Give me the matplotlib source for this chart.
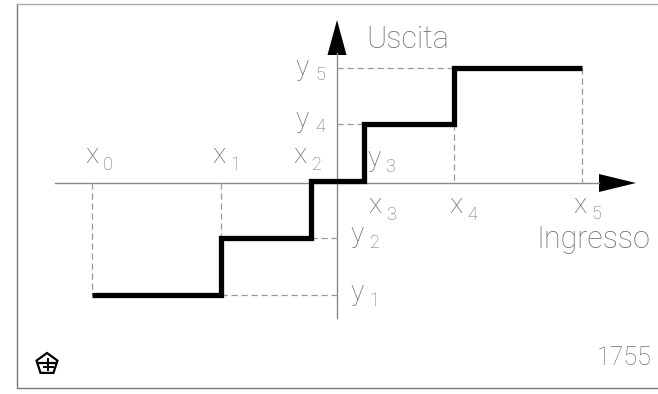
import numpy as np
import matplotlib.pyplot as plt

# input thresholds x0..x5 and output levels y1..y5 (origin at axes crossing)
x_in = [-245, -116, -26, 27, 117, 245]
y_out = [-112, -55, 2, 59, 115]
x_names = ["0", "1", "2", "3", "4", "5"]
y_names = ["1", "2", "3", "4", "5"]

OX, OY = 337, 183   # where the axes cross in the picture

fig = plt.figure(figsize=(6.58, 3.94), dpi=100)
ax = fig.add_axes([0, 0, 1, 1])
ax.set_xlim(-OX, 658 - OX)
ax.set_ylim(OY - 394, OY)
ax.axis("off")

grey = "#8a8a8a"
txt = "#6f6f6f"

def t(px, py, s, size=18, **kw):
    ax.text(px - OX, OY - py, s, fontsize=size, color=txt, ha="left",
            va="baseline", family="Roboto", fontweight="light", **kw)

def lab(px, py, letter, sub, spx, spy):
    t(px, py, letter, size=20)
    t(spx, spy, sub, size=13)

# frame
ax.plot([17 - OX, 17 - OX, 700 - OX], [OY - 4, OY - 388, OY - 388], color="#777", lw=1)
ax.plot([17 - OX, 700 - OX], [OY - 4, OY - 4], color="#aaa", lw=1)

# axes with arrows
ax.plot([-282, 262], [0, 0], color=grey, lw=1)
ax.fill([262, 299, 262], [9, 0, -9], color="black", lw=0)
ax.plot([0, 0], [-135, 130], color=grey, lw=1)
ax.fill([-9.5, 0, 9.5], [128, 163, 128], color="black", lw=0)

# dashed guides
dash = dict(color="#9a9a9a", lw=0.9, ls=(0, (5, 3)))
ax.plot([x_in[0], x_in[0]], [0, y_out[0]], **dash)
ax.plot([x_in[1], x_in[1]], [0, y_out[1]], **dash)
ax.plot([x_in[1], 0], [y_out[0], y_out[0]], **dash)
ax.plot([x_in[2], 0], [y_out[1], y_out[1]], **dash)
ax.plot([0, x_in[3]], [y_out[3], y_out[3]], **dash)
ax.plot([0, x_in[4]], [y_out[4], y_out[4]], **dash)
ax.plot([x_in[4], x_in[4]], [y_out[3], 0], **dash)
ax.plot([x_in[5], x_in[5]], [y_out[4], 0], **dash)

# quantizer staircase
ax.step(x_in, y_out + [y_out[-1]], where="post", color="black", lw=3.8,
        solid_joinstyle="miter", solid_capstyle="butt")

# labels
lab(85, 163, "x", x_names[0], 103, 170)
lab(212, 163, "x", x_names[1], 230, 170)
lab(293, 163, "x", x_names[2], 312, 170)
lab(368, 213, "x", x_names[3], 386, 220)
lab(449, 213, "x", x_names[4], 467, 220)
lab(573, 213, "x", x_names[5], 591, 219)
lab(350, 300, "y", y_names[0], 369, 306)
lab(350, 242, "y", y_names[1], 370, 248)
lab(367, 166, "y", y_names[2], 385, 172)
lab(295, 127, "y", y_names[3], 315, 132)
lab(295, 75, "y", y_names[4], 315, 80)

t(366, 48, "Uscita", size=22)
t(536, 248, "Ingresso", size=22)
t(597, 365, "1755", size=18)

# small logo
ang = np.pi / 2 + np.arange(5) * 2 * np.pi / 5
lx, ly = 47 - OX, OY - 364
ax.fill(lx + 11 * np.cos(ang), ly + 11 * np.sin(ang), facecolor="white",
        edgecolor="black", lw=1.6)
ax.plot([lx - 9, lx + 9], [ly + 1, ly + 1], color="black", lw=1.6)
ax.plot([lx + 1, lx + 1], [ly + 5, ly - 6], color="black", lw=1.4)
ax.plot([lx - 3, lx + 6], [ly - 3, ly - 3], color="black", lw=1.4)

fig.savefig("out.png", dpi=100)
